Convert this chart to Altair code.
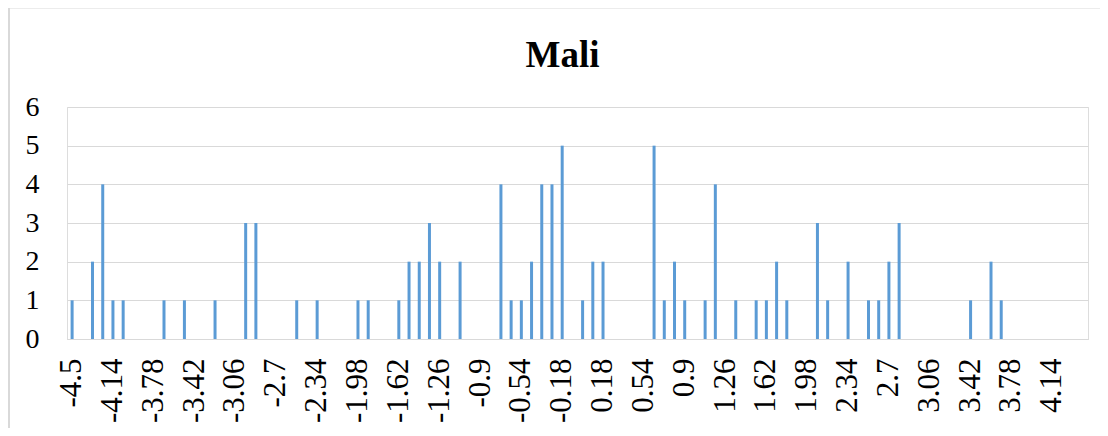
import altair as alt
import pandas as pd

title_text = "Mali"

categories = [
    "-4.5", "-4.41", "-4.32", "-4.23", "-4.14", "-4.05", "-3.96", "-3.87", "-3.78", "-3.69",
    "-3.6", "-3.51", "-3.42", "-3.33", "-3.24", "-3.15", "-3.06", "-2.97", "-2.88", "-2.79",
    "-2.7", "-2.61", "-2.52", "-2.43", "-2.34", "-2.25", "-2.16", "-2.07", "-1.98", "-1.89",
    "-1.8", "-1.71", "-1.62", "-1.53", "-1.44", "-1.35", "-1.26", "-1.17", "-1.08", "-0.99",
    "-0.9", "-0.81", "-0.72", "-0.63", "-0.54", "-0.45", "-0.36", "-0.27", "-0.18", "-0.09",
    "0", "0.09", "0.18", "0.27", "0.36", "0.45", "0.54", "0.63", "0.72", "0.81",
    "0.9", "0.99", "1.08", "1.17", "1.26", "1.35", "1.44", "1.53", "1.62", "1.71",
    "1.8", "1.89", "1.98", "2.07", "2.16", "2.25", "2.34", "2.43", "2.52", "2.61",
    "2.7", "2.79", "2.88", "2.97", "3.06", "3.15", "3.24", "3.33", "3.42", "3.51",
    "3.6", "3.69", "3.78", "3.87", "3.96", "4.05", "4.14", "4.23", "4.32", "4.41",
]

counts = [
    1, 0, 2, 4, 1, 1, 0, 0, 0, 1,
    0, 1, 0, 0, 1, 0, 0, 3, 3, 0,
    0, 0, 1, 0, 1, 0, 0, 0, 1, 1,
    0, 0, 1, 2, 2, 3, 2, 0, 2, 0,
    0, 0, 4, 1, 1, 2, 4, 4, 5, 0,
    1, 2, 2, 0, 0, 0, 0, 5, 1, 2,
    1, 0, 1, 4, 0, 1, 0, 1, 1, 2,
    1, 0, 0, 3, 1, 0, 2, 0, 1, 1,
    2, 3, 0, 0, 0, 0, 0, 0, 1, 0,
    2, 1, 0, 0, 0, 0, 0, 0, 0, 0,
]

x_tick_labels = [
    "-4.5", "-4.14", "-3.78", "-3.42", "-3.06", "-2.7", "-2.34", "-1.98", "-1.62",
    "-1.26", "-0.9", "-0.54", "-0.18", "0.18", "0.54", "0.9", "1.26", "1.62",
    "1.98", "2.34", "2.7", "3.06", "3.42", "3.78", "4.14",
]
y_ticks = [0, 1, 2, 3, 4, 5, 6]

FONT = "Liberation Serif"
BAR = "#5B9BD5"
GRID = "#D9D9D9"

df = pd.DataFrame({"bin": categories, "count": counts})

label_list = "[" + ",".join("'" + s + "'" for s in x_tick_labels) + "]"
label_expr = f"indexof({label_list}, datum.label) >= 0 ? datum.label : ''"

bars = alt.Chart(df).mark_bar(size=3, color=BAR).encode(
    x=alt.X(
        "bin:N",
        sort=categories,
        scale=alt.Scale(domain=categories, paddingInner=0, paddingOuter=0),
        axis=alt.Axis(
            labelExpr=label_expr,
            labelAngle=270,
            labelFont=FONT,
            labelFontSize=31,
            labelColor="black",
            labelPadding=19,
            labelOverlap=False,
            ticks=False,
            grid=False,
            domainColor=GRID,
            domainWidth=1,
            title=None,
        ),
    ),
    y=alt.Y(
        "count:Q",
        scale=alt.Scale(domain=[0, 6], nice=False),
        axis=alt.Axis(
            values=y_ticks,
            labelFont=FONT,
            labelFontSize=28,
            labelColor="black",
            labelPadding=28,
            ticks=False,
            domain=False,
            grid=True,
            gridColor=GRID,
            gridWidth=1,
            title=None,
        ),
    ),
)

frame_df = pd.DataFrame({"k": [0]})
left_border = alt.Chart(frame_df).mark_rule(color=GRID, strokeWidth=2).encode(
    x=alt.value(-58), y=alt.value(-99), y2=alt.value(330)
)
top_border = alt.Chart(frame_df).mark_rule(color=GRID, strokeWidth=1).encode(
    x=alt.value(-58), x2=alt.value(1040), y=alt.value(-99)
)

chart = (
    alt.layer(bars, left_border, top_border)
    .properties(
        width=1021,
        height=232,
        title=alt.TitleParams(
            title_text,
            font=FONT,
            fontSize=37,
            fontWeight="bold",
            color="black",
            anchor="middle",
            dx=-15,
            baseline="alphabetic",
            offset=-97,
        ),
        autosize=alt.AutoSizeParams(type="none"),
        padding={"left": 59, "top": 99, "right": 12, "bottom": 89},
    )
    .configure_view(stroke=None)
    .configure(background="white")
)

chart.save("out.html", embed_options={"renderer": "svg", "actions": False})
